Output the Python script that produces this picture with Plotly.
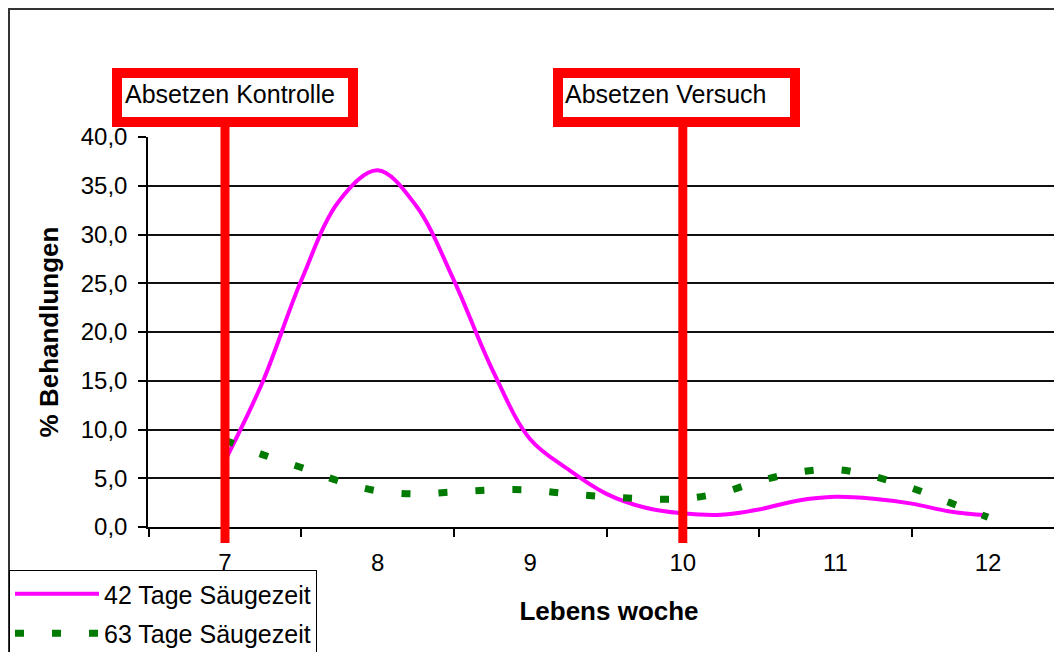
import plotly.graph_objects as go

# ---- data ----
weeks = [7.0, 7.25, 7.5, 7.75, 8.0, 8.25, 8.5, 8.75, 9.0, 9.25, 9.5,
         9.75, 10.0, 10.25, 10.5, 10.75, 11.0, 11.25, 11.5, 11.75, 12.0]
tage42 = [6.8, 15.0, 25.3, 33.5, 36.6, 33.0, 25.3, 16.2, 9.0, 5.9, 3.4,
          2.0, 1.4, 1.25, 1.8, 2.7, 3.1, 2.9, 2.4, 1.6, 1.2]
tage63 = [8.9, 7.4, 6.1, 4.7, 3.7, 3.4, 3.6, 3.8, 3.8, 3.4, 3.1,
          2.9, 2.9, 3.5, 4.7, 5.6, 5.9, 5.2, 4.0, 2.5, 1.0]
series_names = ["42 Tage Säugezeit", "63 Tage Säugezeit"]
x_labels = [7, 8, 9, 10, 11, 12]
x_minor = [6.5, 7.5, 8.5, 9.5, 10.5, 11.5, 12.5]
y_ticks = [0, 5, 10, 15, 20, 25, 30, 35, 40]
events = [(7, "Absetzen Kontrolle"), (10, "Absetzen Versuch")]

FONT = "Liberation Sans, Arial, sans-serif"

fig = go.Figure()
fig.add_trace(go.Scatter(
    x=weeks, y=tage42, name=series_names[0], mode="lines",
    line=dict(color="#FF00FF", width=4, shape="spline", smoothing=1),
    legendgroup="a"))
fig.add_trace(go.Scatter(
    x=weeks, y=tage63, name=series_names[1], mode="lines",
    line=dict(color="#007A00", width=7, shape="spline", smoothing=1,
              dash="9px,28px"),
    legendgroup="b"))

# layout geometry (figure pixels; the page adds an 8px body margin)
OFF = 8
W, H = 1062, 652
L, T = 148 - OFF, 137 - OFF
ph = 390
B = H - T - ph
R = 0
pw = W - L - R


def px(xp):
    return (xp - OFF - L) / pw


def py(yp):
    return (T + ph - (yp - OFF)) / ph


# event markers: red boxes with text and vertical lines
box_px = [(117, 353, 123), (558, 795, 563)]
for (xv, label), (bx0, bx1, tx) in zip(events, box_px):
    fig.add_shape(type="line", xref="x", yref="paper", x0=xv, x1=xv,
                  y0=py(543), y1=py(122), line=dict(color="#FF0000", width=9),
                  layer="above")
    fig.add_shape(type="rect", xref="paper", yref="paper",
                  x0=px(bx0), x1=px(bx1), y0=py(122), y1=py(73),
                  line=dict(color="#FF0000", width=10), fillcolor="white",
                  layer="above")
    fig.add_annotation(text=label, xref="paper", yref="paper",
                       x=px(tx), y=py(94), xanchor="left", yanchor="middle",
                       showarrow=False,
                       font=dict(family=FONT, size=25, color="black"))

# outer chart border (extends past the right/bottom edge)
fig.add_shape(type="rect", xref="paper", yref="paper",
              x0=px(OFF + 1), x1=px(1100), y0=py(720), y1=py(OFF + 1),
              line=dict(color="#333333", width=2), fillcolor="rgba(0,0,0,0)",
              layer="below")

px_per_unit = 152.6
x0 = 7 - (225 - 148) / px_per_unit
x1 = x0 + pw / px_per_unit

fig.update_layout(
    width=W, height=H,
    margin=dict(l=L, r=R, t=T, b=B, autoexpand=False),
    paper_bgcolor="white", plot_bgcolor="white",
    separators=",.",
    font=dict(family=FONT, size=24, color="black"),
    showlegend=True,
    legend=dict(x=px(OFF + 1), y=py(570), xanchor="left", yanchor="top",
                bgcolor="white", bordercolor="black", borderwidth=1,
                font=dict(family=FONT, size=25, color="black"),
                itemwidth=84, tracegroupgap=4, traceorder="grouped"),
    xaxis=dict(
        range=[x0, x1],
        tickmode="array", tickvals=x_labels,
        ticks="outside", ticklen=8, tickcolor="rgba(0,0,0,0)",
        ticklabelstandoff=5,
        minor=dict(tickmode="array", tickvals=x_minor, ticks="outside",
                   ticklen=8, tickcolor="black", tickwidth=1.5, showgrid=False),
        showgrid=False, zeroline=False,
        showline=True, linecolor="black", linewidth=1.5,
        tickfont=dict(family=FONT, size=24, color="black"),
        title=dict(text="<b>Lebens woche</b>", standoff=27,
                   font=dict(family=FONT, size=26, color="black")),
    ),
    yaxis=dict(
        range=[0, 40],
        tickmode="array", tickvals=y_ticks, tickformat=".1f",
        ticks="outside", ticklen=8, tickcolor="black", tickwidth=1.5,
        ticklabelstandoff=6,
        showgrid=True, gridcolor="#111111", gridwidth=1.5,
        zeroline=False,
        showline=True, linecolor="black", linewidth=1.5,
        tickfont=dict(family=FONT, size=24, color="black"),
        title=dict(text="<b>% Behandlungen</b>", standoff=15,
                   font=dict(family=FONT, size=26, color="black")),
    ),
)

fig.write_html("out.html")
